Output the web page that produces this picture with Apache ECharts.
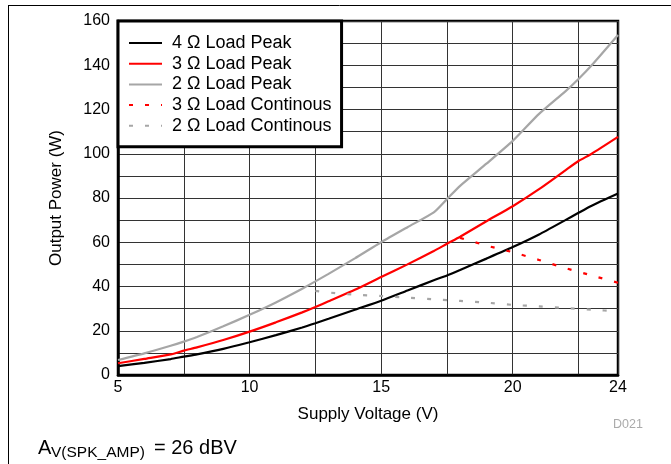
<!DOCTYPE html>
<html>
<head>
<meta charset="utf-8">
<script src="https://cdn.jsdelivr.net/npm/echarts@6/dist/echarts.min.js"></script>
<style>html,body{margin:0;padding:0;background:#fff;}#c{width:671px;height:464px;}</style>
</head>
<body>
<div id="c"></div>
<script>
// Supply voltage points (V)
const vPeak = [5, 6, 7, 7.5, 8, 9, 10, 11, 12, 12.5, 13, 14, 15, 16, 17, 17.5, 18, 19, 20, 21, 22, 22.5, 23, 24];
const load4Peak = [4, 5.5, 7.2, 8.3, 9.3, 11.8, 14.8, 18, 21.5, 23.4, 25.4, 29.5, 33.6, 38.2, 42.8, 45, 47.5, 52.6, 57.8, 63.5, 70, 73.3, 76.5, 82];
const load3Peak = [5.3, 7.3, 9.3, 11, 12.5, 15.8, 19.6, 23.8, 28.3, 30.7, 33.3, 38.5, 44.3, 50, 56, 59.3, 62.5, 69.5, 76.3, 84, 92.5, 96.7, 100, 107.6];
const load2Peak = [6.8, 9.8, 13.2, 15.1, 17.2, 22, 27.2, 32.8, 39, 42.3, 45.7, 52.7, 60, 66.8, 73.5, 79.5, 85.5, 95.5, 105.8, 118, 128.2, 133.8, 140, 153.7];
const v3Cont = [18, 19, 20, 21, 22, 23, 24];
const load3Cont = [62, 58.5, 55.5, 52, 48.3, 45, 41.7];
const v2Cont = [12.5, 13, 14, 15, 16, 17, 18, 19, 20, 21, 22, 23, 24];
const load2Cont = [38, 37.3, 36.3, 35.7, 35, 34.2, 33.5, 32.7, 31.7, 31, 30.3, 29.5, 28.8];
const seriesNames = ['4 Ω Load Peak', '3 Ω Load Peak', '2 Ω Load Peak', '3 Ω Load Continous', '2 Ω Load Continous'];
const xTickLabels = [5, 10, 15, 20, 24];
const yTickLabels = [0, 20, 40, 60, 80, 100, 120, 140, 160];

const pair = (xs, ys) => xs.map((x, i) => [x, ys[i]]);
const FONT = 'Liberation Sans, Arial, sans-serif';

const chart = echarts.init(document.getElementById('c'), null, {renderer: 'canvas'});
function mk(name, xs, ys, color, dashed) {
  return {
    name: name, type: 'line', data: pair(xs, ys), symbol: 'none', smooth: 0.2,
    lineStyle: {color: color, width: 2.2, type: dashed ? [4, 12] : 'solid'},
    itemStyle: {color: color}, z: 5
  };
}
chart.setOption({
  animation: false,
  backgroundColor: '#fff',
  grid: {left: 118, right: 53, top: 21, bottom: 89, show: true, borderColor: '#000', borderWidth: 2.5, backgroundColor: 'transparent'},
  xAxis: {
    type: 'value', min: 5, max: 24, interval: 2.5,
    name: 'Supply Voltage (V)', nameLocation: 'middle', nameGap: 31,
    nameTextStyle: {fontFamily: FONT, fontSize: 17, color: '#000'},
    axisLine: {show: true, lineStyle: {color: '#000', width: 2.5}},
    axisTick: {show: false},
    axisLabel: {fontFamily: FONT, fontSize: 16, color: '#000', margin: 5, showMaxLabel: true,
      formatter: v => xTickLabels.indexOf(v) >= 0 ? String(v) : ''},
    splitLine: {show: true, lineStyle: {color: '#333', width: 1}}
  },
  yAxis: {
    type: 'value', min: 0, max: 160, interval: 10,
    name: 'Output Power (W)', nameLocation: 'middle', nameGap: 53,
    nameTextStyle: {fontFamily: FONT, fontSize: 17, color: '#000'},
    axisLine: {show: true, lineStyle: {color: '#000', width: 2.5}},
    axisTick: {show: false},
    axisLabel: {fontFamily: FONT, fontSize: 16, color: '#000', margin: 8,
      formatter: v => yTickLabels.indexOf(v) >= 0 ? String(v) : ''},
    splitLine: {show: true, lineStyle: {color: '#333', width: 1}}
  },
  legend: {
    orient: 'vertical', left: 118, top: 21,
    data: seriesNames,
    backgroundColor: '#fff', borderColor: '#000', borderWidth: 3,
    padding: [12, 10, 11, 10],
    itemWidth: 33, itemHeight: 20, itemGap: 0.7,
    itemStyle: {opacity: 0},
    textStyle: {fontFamily: FONT, fontSize: 18, lineHeight: 20, color: '#000', padding: [0, 0, 0, 5]}
  },
  series: [
    mk(seriesNames[0], vPeak, load4Peak, '#000000', false),
    mk(seriesNames[1], vPeak, load3Peak, '#ff0000', false),
    mk(seriesNames[2], vPeak, load2Peak, '#a6a6a6', false),
    mk(seriesNames[3], v3Cont, load3Cont, '#ff0000', true),
    mk(seriesNames[4], v2Cont, load2Cont, '#a6a6a6', true)
  ],
  graphic: [
    {type: 'line', shape: {x1: 8, y1: 5.5, x2: 671, y2: 5.5}, style: {stroke: '#000', lineWidth: 1}},
    {type: 'line', shape: {x1: 8.5, y1: 5, x2: 8.5, y2: 464}, style: {stroke: '#000', lineWidth: 1}},
    {type: 'text', x: 613, y: 418, style: {text: 'D021', fill: '#aaa', font: '12.5px ' + FONT}},
    {type: 'text', x: 38, y: 438, style: {text: 'A', fill: '#000', font: '20px ' + FONT}},
    {type: 'text', x: 51, y: 445, style: {text: 'V(SPK_AMP)', fill: '#000', font: '15.5px ' + FONT}},
    {type: 'text', x: 154, y: 438, style: {text: '= 26 dBV', fill: '#000', font: '20px ' + FONT}}
  ]
});
</script>
</body>
</html>
